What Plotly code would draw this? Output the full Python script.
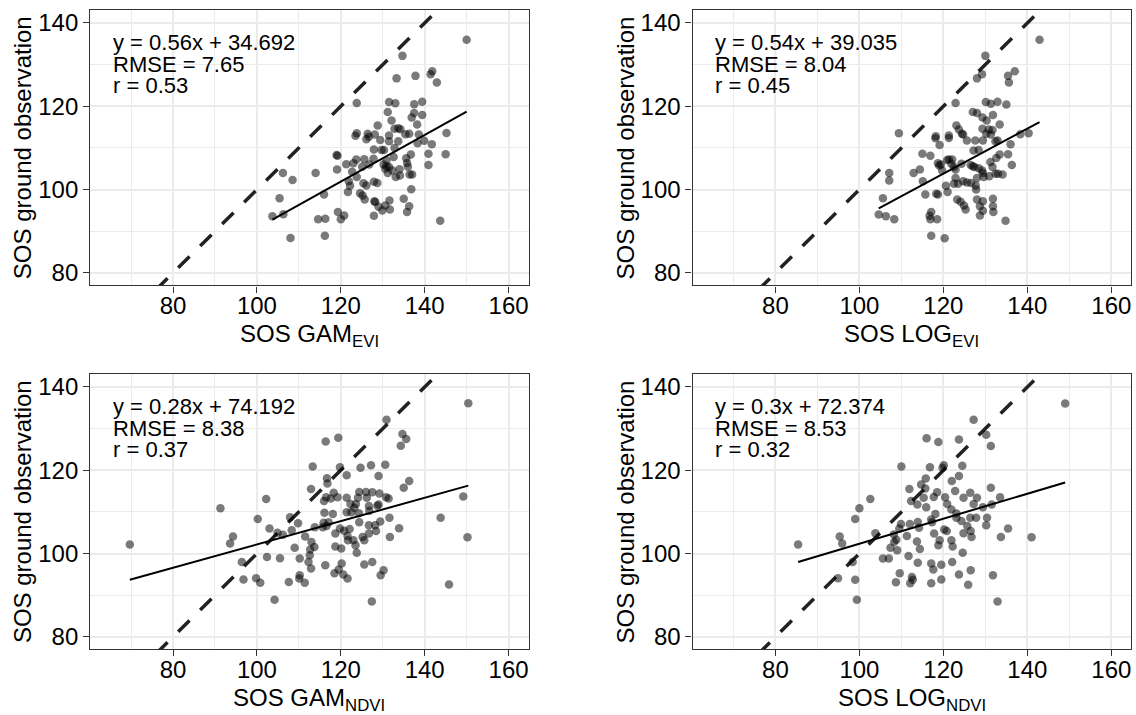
import plotly.graph_objects as go

# ---------------- data (x = satellite SOS, y = ground-observed SOS) ----------------
gam_evi = [(150,136),(134.7,132.1),(133.3,126.7),(137.8,127.3),(141.8,128.4),(141.4,127.7),(142.9,125.7),(123.8,120.8),(131.5,121.0),(133.0,120.7),(137.5,120.5),(139.4,121.1),(131.2,118.6),(137.5,118.4),(139.4,117.9),(136.9,117.3),(132.1,116.6),(138.2,115.6),(128.8,115.4),(133.7,114.7),(134.2,114.5),(132.8,114.6),(123.8,113.5),(123.5,112.9),(126.4,113.4),(126.7,112.7),(126.1,112.1),(128.1,113.2),(129.4,111.9),(131.5,113.0),(131.5,111.6),(133.7,111.6),(135.4,113.3),(136.3,113.4),(138.6,113.2),(138.3,111.1),(139.9,111.7),(141.7,110.9),(145.2,113.6),(145.0,108.5),(140.9,108.6),(140.9,105.9),(136.7,108.4),(135.6,107.5),(135.8,106.4),(136.0,105.5),(137.0,103.6),(136.4,103.6),(136.8,100.1),(135.0,97.8),(136.3,96.0),(135.8,94.6),(143.7,92.5),(132.8,110.0),(130.3,109.5),(127.9,109.6),(129.7,109.5),(132.6,107.8),(130.9,107.0),(130.2,106.0),(130.9,105.6),(131.5,105.4),(130.6,105.0),(131.2,104.0),(132.3,104.6),(133.1,103.0),(134.0,104.9),(134.1,103.4),(127.8,107.4),(126.8,106.0),(125.6,107.3),(125.1,105.5),(123.7,107.2),(123.0,106.3),(121.3,106.1),(119.2,108.1),(119.0,108.3),(119.1,104.8),(122.7,104.3),(123.8,103.0),(121.9,102.0),(122.2,100.9),(121.7,99.4),(124.6,99.1),(125.2,98.6),(125.7,97.6),(125.4,101.5),(126.1,101.0),(127.9,101.9),(128.7,101.6),(128.0,97.2),(128.2,97.0),(129.0,95.9),(129.9,95.0),(130.6,96.2),(131.6,97.4),(131.7,95.2),(127.9,93.7),(114.0,104.0),(116.0,98.8),(114.6,92.9),(116.3,93.0),(116.2,88.9),(119.3,94.6),(120.8,93.8),(120.0,92.9),(106.2,104.0),(108.5,102.3),(105.4,97.9),(103.7,93.6),(106.3,94.1),(108.0,88.4)]

log_evi = [(142.9,136.0),(130.0,132.1),(129.2,127.7),(128.0,126.7),(135.4,127.3),(137.0,128.4),(135.6,125.7),(122.9,120.8),(130.1,121.0),(131.3,120.6),(132.9,121.1),(135.0,120.4),(127.0,118.6),(128.0,118.4),(129.3,117.3),(131.8,117.9),(130.3,116.6),(133.4,115.6),(123.1,115.4),(123.7,114.4),(124.4,113.4),(124.7,113.2),(129.3,114.6),(130.8,114.4),(131.7,114.3),(130.2,113.4),(131.3,113.2),(132.4,111.6),(132.9,111.8),(138.3,113.3),(140.3,113.5),(136.0,110.9),(135.4,108.5),(136.3,105.9),(133.4,108.4),(132.6,107.6),(131.2,106.6),(131.7,105.4),(132.4,103.8),(134.1,103.6),(133.0,103.8),(129.4,111.8),(128.4,109.5),(127.2,109.4),(127.6,111.8),(125.6,111.8),(118.2,112.8),(118.1,112.3),(119.1,110.7),(121.3,113.0),(121.3,112.4),(109.4,113.5),(115.0,108.6),(116.9,108.1),(118.7,106.3),(119.0,105.8),(119.4,106.0),(119.7,104.6),(120.9,107.1),(121.3,107.2),(122.1,107.2),(121.9,106.2),(122.5,105.4),(122.9,104.8),(124.3,106.2),(126.5,105.9),(127.0,105.6),(127.4,105.4),(128.4,105.1),(129.2,104.6),(129.4,104.0),(128.0,102.8),(129.6,103.0),(130.9,103.2),(122.9,102.8),(123.5,101.4),(122.5,101.4),(124.7,102.0),(125.6,101.7),(126.6,101.6),(127.7,101.0),(127.8,100.0),(120.6,100.9),(121.0,99.4),(118.3,99.0),(118.7,98.8),(115.7,98.8),(115.1,102.0),(112.9,104.0),(114.4,104.8),(107.1,104.0),(107.1,102.2),(105.6,97.9),(104.6,94.0),(106.3,93.6),(108.3,92.9),(117.1,94.6),(116.7,93.7),(116.9,92.9),(118.5,92.9),(117.1,88.9),(120.3,88.3),(123.3,97.6),(124.1,97.1),(124.9,96.2),(125.3,95.2),(128.0,97.6),(129.4,97.2),(128.7,96.0),(129.4,94.9),(128.7,93.8),(131.8,97.8),(131.8,96.0),(131.9,94.6),(134.8,92.5)]

gam_ndvi = [(150.4,136.1),(69.7,102.2),(149.2,113.7),(150.2,103.9),(143.8,108.6),(145.8,92.6),(91.3,110.9),(94.3,104.1),(93.6,102.4),(96.4,98.0),(96.8,93.8),(99.8,94.1),(100.8,93.0),(102.4,99.2),(104.2,88.9),(100.2,108.3),(102.2,113.1),(103.0,106.0),(104.9,105.0),(106.2,104.5),(105.5,98.9),(107.9,108.7),(109.8,107.3),(108.3,105.6),(109.0,101.4),(110.2,98.8),(110.2,94.8),(110.1,94.0),(107.6,93.2),(111.4,93.0),(111.5,104.1),(112.9,115.5),(113.3,120.9),(113.0,102.8),(113.7,101.6),(112.7,101.0),(112.6,99.6),(112.3,98.0),(112.9,96.4),(113.8,106.3),(115.7,106.3),(115.9,107.4),(116.1,109.8),(116.0,112.6),(116.5,113.5),(116.8,116.8),(116.7,118.1),(116.4,126.9),(119.4,127.8),(119.8,120.7),(121.4,118.8),(118.3,114.6),(119.2,113.5),(117.6,113.2),(118.1,109.5),(117.1,107.5),(116.6,106.6),(121.4,109.9),(121.4,113.4),(122.3,111.9),(123.2,111.0),(123.6,111.9),(122.5,109.9),(124.1,113.4),(124.4,114.8),(124.7,120.6),(126.0,114.8),(126.2,113.4),(127.5,114.7),(127.2,121.2),(129.0,118.6),(130.6,121.3),(130.9,132.1),(134.7,128.7),(135.6,127.5),(134.3,125.9),(136.3,117.4),(135.0,115.8),(129.2,114.4),(130.8,113.5),(131.4,113.2),(129.0,111.8),(128.7,111.5),(126.8,110.3),(126.7,111.4),(124.3,109.7),(124.4,107.5),(126.7,106.8),(128.2,106.8),(128.4,105.4),(126.7,104.8),(125.2,104.0),(125.6,103.2),(129.4,107.7),(131.6,108.6),(133.9,106.1),(131.7,104.0),(119.8,106.0),(120.8,105.5),(122.1,105.9),(121.6,104.2),(121.7,103.2),(123.0,103.2),(123.5,102.0),(123.8,100.2),(120.1,101.2),(118.7,101.7),(118.7,104.8),(120.2,97.6),(119.5,96.2),(118.5,95.3),(120.6,95.0),(121.6,94.0),(116.3,97.2),(125.6,97.4),(127.5,98.0),(130.2,96.0),(129.5,94.8),(127.4,88.5)]

log_ndvi = [(149.0,136.0),(85.4,102.2),(141.0,103.9),(127.2,132.1),(130.2,128.5),(131.3,125.8),(116.0,127.7),(118.8,126.8),(123.7,127.4),(110.0,120.9),(116.8,120.7),(120.1,121.2),(119.8,120.6),(124.5,121.1),(123.7,118.6),(115.8,118.0),(114.7,116.6),(115.7,115.6),(111.9,115.5),(102.6,113.1),(100.0,110.9),(99.0,108.3),(112.3,112.6),(113.8,111.8),(115.3,113.4),(115.9,111.1),(118.5,114.7),(117.7,113.6),(122.0,117.4),(122.8,115.0),(120.4,113.5),(120.9,111.9),(121.9,110.6),(123.1,109.6),(124.8,113.4),(126.4,114.6),(128.0,113.4),(127.2,111.9),(129.4,111.1),(131.3,115.8),(131.5,111.8),(133.5,113.5),(130.4,108.6),(127.8,108.6),(126.4,108.6),(125.7,106.6),(124.8,104.9),(126.7,104.0),(126.5,105.4),(130.2,106.8),(133.7,104.0),(135.4,106.0),(124.3,107.8),(123.1,108.6),(118.1,109.5),(117.1,108.2),(117.3,107.5),(117.8,104.8),(119.1,103.2),(118.8,102.0),(120.2,105.8),(120.8,105.4),(121.9,103.2),(122.2,101.7),(124.6,100.2),(122.1,98.0),(119.5,97.3),(117.1,97.6),(117.6,96.2),(117.1,92.9),(119.5,93.8),(123.7,95.0),(126.5,96.0),(125.9,92.5),(131.8,94.8),(132.9,88.5),(113.9,97.8),(114.4,101.1),(113.7,102.9),(111.7,99.4),(112.5,94.4),(112.7,93.7),(112.1,92.9),(109.6,95.3),(108.7,93.1),(109.0,100.8),(108.3,102.8),(107.4,101.4),(108.8,103.3),(111.3,104.2),(109.5,106.0),(109.9,107.1),(112.0,107.1),(113.9,107.6),(114.2,106.2),(108.2,104.6),(105.6,98.8),(107.0,98.8),(103.8,104.9),(95.3,104.1),(95.9,102.4),(98.4,98.0),(94.9,94.1),(99.0,93.7),(99.4,88.9)]

panel_data = [gam_evi, log_evi, gam_ndvi, log_ndvi]
x_titles = ["SOS GAM<sub>EVI</sub>", "SOS LOG<sub>EVI</sub>", "SOS GAM<sub>NDVI</sub>", "SOS LOG<sub>NDVI</sub>"]
slopes = [0.56, 0.54, 0.28, 0.3]
intercepts = [34.692, 39.035, 74.192, 72.374]
rmse = ["7.65", "8.04", "8.38", "8.53"]
r_vals = ["0.53", "0.45", "0.37", "0.32"]
x_ticks = [80, 100, 120, 140, 160]
y_ticks = [80, 100, 120, 140]
x_lim = [65, 160]
y_lim = [80, 140]

# ---------------- layout geometry (pixels) ----------------
W, H = 1136, 715
col_px = [(90.2, 528.5), (692.5, 1131.3)]
row_px = [(9.5, 285.2), (374.5, 650.2)]
FONT = "Liberation Sans, Arial, sans-serif"


def fx(px):
    return px / W


def fy(py):
    return 1 - py / H


exp_x = (x_lim[1] - x_lim[0]) * 0.05
exp_y = (y_lim[1] - y_lim[0]) * 0.05
x_range = [x_lim[0] - exp_x, x_lim[1] + exp_x]
y_range = [y_lim[0] - exp_y, y_lim[1] + exp_y]

fig = go.Figure()
annotations = []

for i, pts in enumerate(panel_data):
    r, c = divmod(i, 2)
    n = "" if i == 0 else str(i + 1)
    xa, ya = "x" + n, "y" + n
    xs = [p[0] for p in pts]
    ys = [p[1] for p in pts]

    # 1:1 line
    fig.add_trace(go.Scatter(x=x_range, y=x_range, mode="lines", xaxis=xa, yaxis=ya,
                             line=dict(color="#222222", width=3.5, dash="16px,15px"),
                             hoverinfo="skip", showlegend=False))
    # points
    fig.add_trace(go.Scatter(x=xs, y=ys, mode="markers", xaxis=xa, yaxis=ya,
                             marker=dict(size=8.5, color="rgba(0,0,0,0.52)", line=dict(width=0)),
                             showlegend=False))
    # regression line
    x0, x1 = min(xs), max(xs)
    fig.add_trace(go.Scatter(x=[x0, x1], y=[slopes[i] * x0 + intercepts[i], slopes[i] * x1 + intercepts[i]],
                             mode="lines", xaxis=xa, yaxis=ya,
                             line=dict(color="black", width=2), hoverinfo="skip", showlegend=False))

    axis_common = dict(
        showline=True, mirror=True, linecolor="#333333", linewidth=1.2,
        ticks="outside", ticklen=6, tickwidth=1.2, tickcolor="#333333",
        showgrid=True, gridcolor="#EBEBEB", gridwidth=1.6, zeroline=False,
        tickfont=dict(family=FONT, size=24, color="black"),
        minor=dict(dtick=10, tick0=0, showgrid=True, gridcolor="#EBEBEB", gridwidth=0.8, ticks=""),
    )
    fig.layout["xaxis" + n] = dict(axis_common, domain=[fx(col_px[c][0]), fx(col_px[c][1])],
                                   range=x_range, tickvals=x_ticks, anchor=ya,
                                   ticklabelstandoff=-7)
    fig.layout["yaxis" + n] = dict(axis_common, domain=[fy(row_px[r][1]), fy(row_px[r][0])],
                                   range=y_range, tickvals=y_ticks, anchor=xa)

    # statistics text
    lines = [f"y = {slopes[i]}x + {intercepts[i]:.3f}", f"RMSE = {rmse[i]}", f"r = {r_vals[i]}"]
    top = row_px[r][0]
    for k, t in enumerate(lines):
        annotations.append(dict(text=t, xref="paper", yref="paper",
                                x=fx(col_px[c][0] + 20.5), y=fy(top + 32.5 + k * 21.6),
                                xanchor="left", yanchor="middle", showarrow=False,
                                font=dict(family=FONT, size=22, color="black")))
    # axis titles
    annotations.append(dict(text=x_titles[i], xref="paper", yref="paper",
                            x=fx((col_px[c][0] + col_px[c][1]) / 2), y=fy(row_px[r][1] + 50),
                            xanchor="center", yanchor="middle", showarrow=False,
                            font=dict(family=FONT, size=24, color="black")))
    annotations.append(dict(text="SOS ground observation", xref="paper", yref="paper",
                            x=fx(col_px[c][0] - 67), y=fy((row_px[r][0] + row_px[r][1]) / 2),
                            xanchor="center", yanchor="middle", textangle=-90, showarrow=False,
                            font=dict(family=FONT, size=24, color="black")))

fig.update_layout(width=W, height=H, margin=dict(l=0, r=0, t=0, b=0),
                  plot_bgcolor="white", paper_bgcolor="white",
                  annotations=annotations, showlegend=False)

fig.write_html("out.html", config={"displayModeBar": False},
               post_script="document.body.style.margin='0';document.body.style.overflow='hidden';")
